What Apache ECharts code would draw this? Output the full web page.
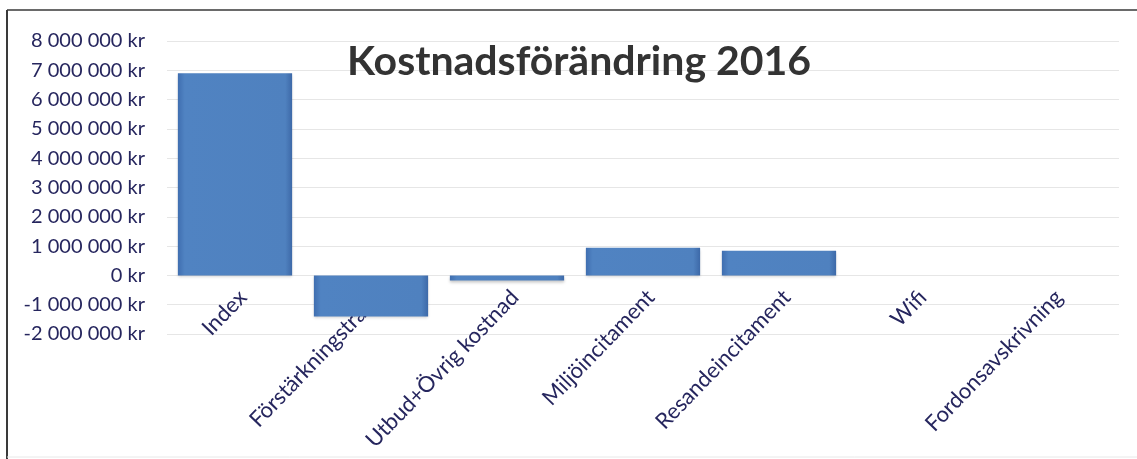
<!DOCTYPE html>
<html>
<head>
<meta charset="utf-8">
<script src="https://cdn.jsdelivr.net/npm/echarts@6/dist/echarts.min.js"></script>
<style>
  html, body { margin: 0; padding: 0; background: #fff; }
  #chart { width: 1137px; height: 459px; }
</style>
</head>
<body>
<div id="chart"></div>
<script>
// Kostnadsförändring 2016 – change in cost per item (SEK)
const categories = ['Index', 'Förstärkningstrafik', 'Utbud+Övrig kostnad', 'Miljöincitament', 'Resandeincitament', 'Wifi', 'Fordonsavskrivning'];
const values = [6900000, -1400000, -170000, 940000, 840000, 0, 0];
const yMin = -2000000;
const yMax = 8000000;
const yStep = 1000000;

const labelColor = '#26265e';
const fontFamily = 'Lato, "Open Sans", sans-serif';

function formatKr(v) {
  const s = Math.abs(v).toString().replace(/\B(?=(\d{3})+(?!\d))/g, ' ');
  return (v < 0 ? '-' : '') + s + ' kr';
}

const chart = echarts.init(document.getElementById('chart'), null, { renderer: 'canvas' });
chart.setOption({
  animation: false,
  backgroundColor: '#ffffff',
  title: {
    text: 'Kostnadsförändring 2016',
    left: 342,
    top: 36,
    textStyle: { fontFamily: fontFamily, fontWeight: 'bold', fontSize: 41, color: '#333333' }
  },
  grid: { left: 167, right: 18, top: 41, bottom: 125, containLabel: false, outerBoundsMode: 'none' },
  xAxis: {
    type: 'category',
    data: categories,
    axisLine: { show: false },
    axisTick: { show: false },
    axisLabel: {
      interval: 0,
      rotate: 46,
      // labels hang from the zero line, which is 2 steps above the plot bottom
      margin: -48,
      verticalAlign: 'top',
      color: labelColor,
      fontFamily: fontFamily,
      fontSize: 22
    }
  },
  yAxis: {
    type: 'value',
    min: yMin,
    max: yMax,
    interval: yStep,
    axisLine: { show: false },
    axisTick: { show: false },
    splitLine: { lineStyle: { color: '#e6e6e6', width: 1 } },
    axisLabel: {
      margin: 22,
      color: labelColor,
      fontFamily: fontFamily,
      fontSize: 20,
      formatter: formatKr
    }
  },
  series: [{
    type: 'bar',
    data: values,
    barCategoryGap: '16%',
    itemStyle: {
      color: new echarts.graphic.LinearGradient(0, 0, 1, 0, [
        { offset: 0, color: '#3f6eb0' },
        { offset: 0.06, color: '#5083c2' },
        { offset: 0.94, color: '#4f81bf' },
        { offset: 1, color: '#3d69a8' }
      ]),
      borderWidth: 0,
      shadowColor: 'rgba(0,0,0,0.22)',
      shadowBlur: 3,
      shadowOffsetY: 2
    }
  }],
  graphic: [
    { type: 'line', shape: { x1: 7, y1: 10, x2: 1137, y2: 10 }, style: { stroke: '#6a6a6a', lineWidth: 2 } },
    { type: 'line', shape: { x1: 7, y1: 10, x2: 7, y2: 459 }, style: { stroke: '#3a3a3a', lineWidth: 2 } },
    { type: 'line', shape: { x1: 7, y1: 457, x2: 1137, y2: 457 }, style: { stroke: '#e8e8e8', lineWidth: 1 } }
  ]
});
</script>
</body>
</html>
